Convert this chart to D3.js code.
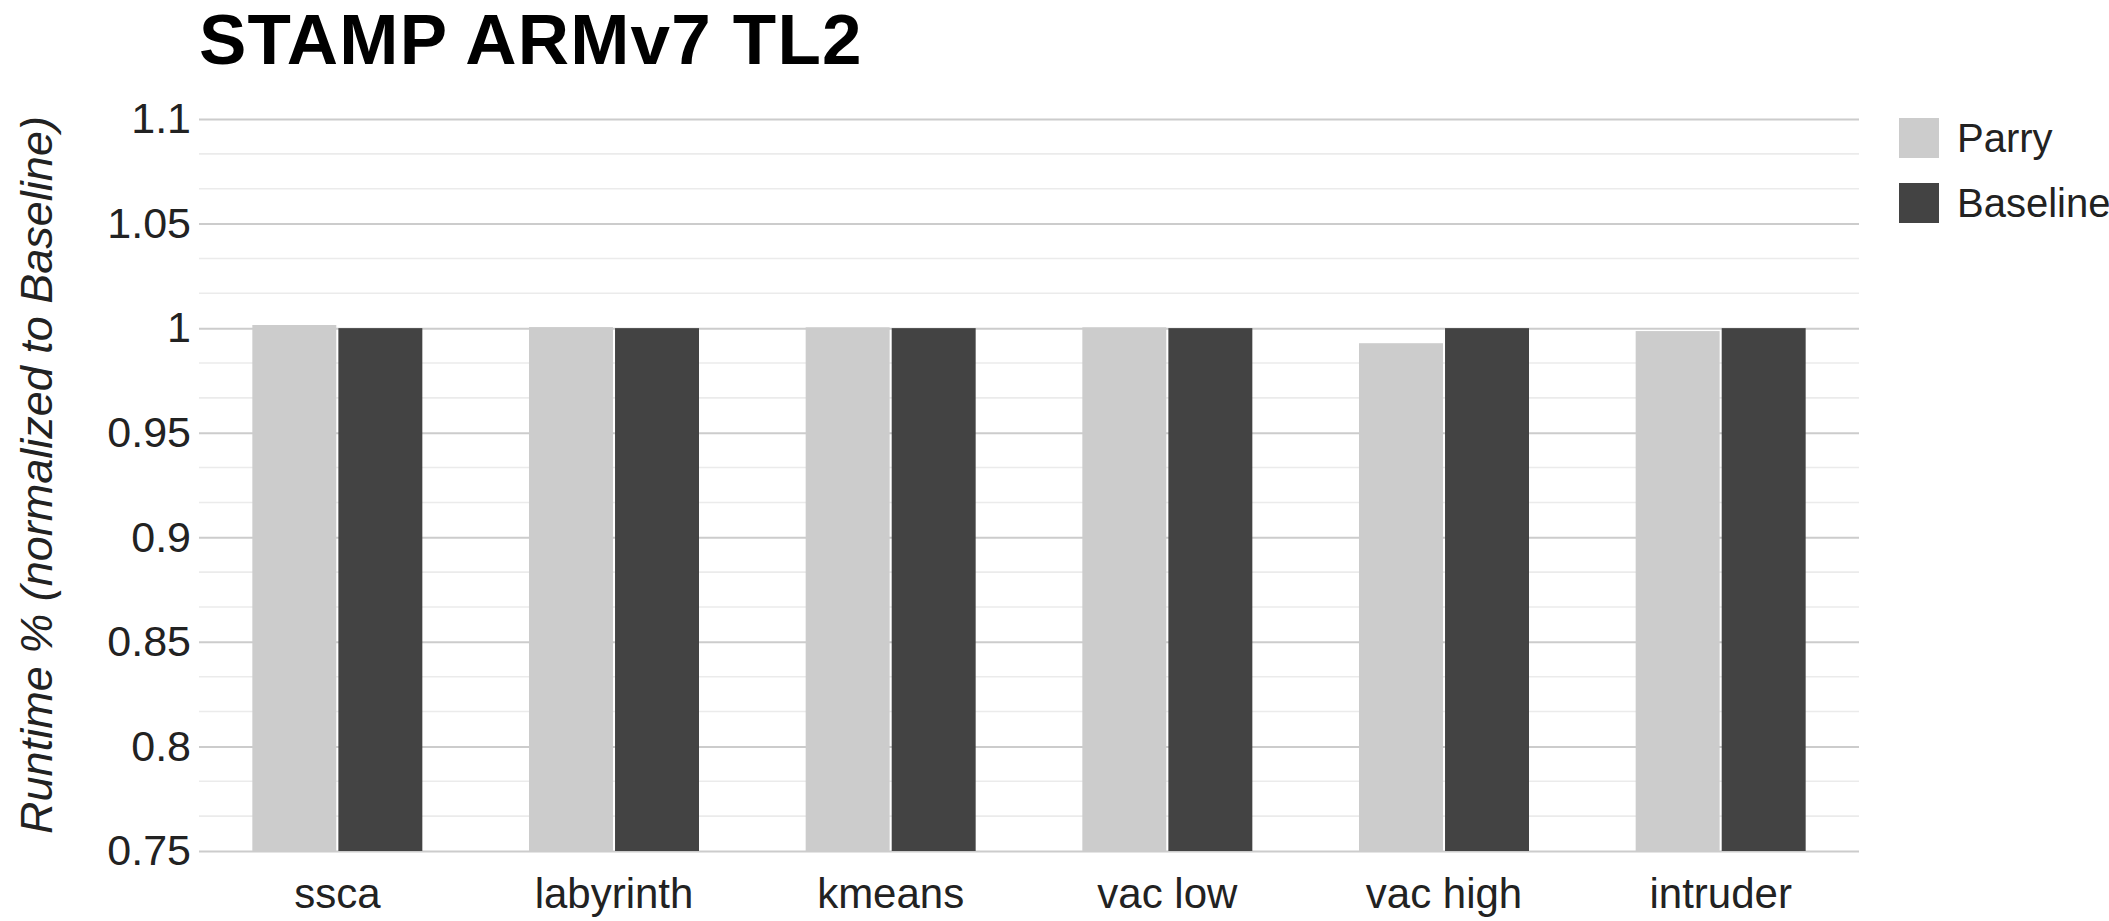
<!DOCTYPE html>
<html>
<head>
<meta charset="utf-8">
<script src="https://cdn.jsdelivr.net/npm/d3@7"></script>
<style>
  html, body { margin: 0; padding: 0; background: #fff; }
  svg { display: block; font-family: Arial, "Liberation Sans", Helvetica, sans-serif; }
</style>
</head>
<body>
<svg id="chart" width="2109" height="921"></svg>
<script>
const title = "STAMP ARMv7 TL2";
const yAxisTitle = "Runtime % (normalized to Baseline)";
const categories = ["ssca", "labyrinth", "kmeans", "vac low", "vac high", "intruder"];
const seriesNames = ["Parry", "Baseline"];
const parryValues = [1.0015, 1.0005, 1.0004, 1.0004, 0.9928, 0.9986];
const baselineValues = [1, 1, 1, 1, 1, 1];
const seriesColors = ["#cccccc", "#434343"];
const yTicks = [0.75, 0.8, 0.85, 0.9, 0.95, 1, 1.05, 1.1];
const yTickLabels = ["0.75", "0.8", "0.85", "0.9", "0.95", "1", "1.05", "1.1"];

(function () {
const svg = d3.select("#chart");
const pLeft = 199, pRight = 1859, pTop = 119, pBottom = 851;

const y = d3.scaleLinear().domain([0.75, 1.1]).range([pBottom, pTop]);
const x0 = d3.scaleBand().domain(categories).range([pLeft, pRight]).padding(0);
const groupW = 170;
const bw = x0.bandwidth();
const x1 = d3.scaleBand().domain(seriesNames)
  .range([(bw - groupW) / 2, (bw + groupW) / 2]).paddingInner(0.024).paddingOuter(0);

// minor gridlines
const minorTicks = d3.range(0, 22).map(i => 0.75 + i * (0.05 / 3))
  .filter((v, i) => i % 3 !== 0);
svg.append("g").selectAll("line").data(minorTicks).join("line")
  .attr("x1", pLeft).attr("x2", pRight)
  .attr("y1", d => y(d)).attr("y2", d => y(d))
  .attr("stroke", "#ebebeb").attr("stroke-width", 1.6);

// major gridlines via axis
const yAxis = d3.axisLeft(y).tickValues(yTicks)
  .tickFormat((d, i) => yTickLabels[i]).tickSize(-(pRight - pLeft)).tickPadding(8);
const gy = svg.append("g").attr("transform", `translate(${pLeft},0)`).call(yAxis);
gy.select(".domain").remove();
gy.selectAll(".tick line").attr("stroke", "#cccccc").attr("stroke-width", 2);
gy.selectAll(".tick text").attr("x", -8)
  .attr("font-size", 43).attr("fill", "#222").attr("font-family", "Arial, 'Liberation Sans', sans-serif");

// bars
const data = categories.map((c, i) => ({ cat: c, vals: [parryValues[i], baselineValues[i]] }));
const groups = svg.append("g").selectAll("g").data(data).join("g")
  .attr("transform", d => `translate(${x0(d.cat)},0)`);
groups.selectAll("rect").data(d => d.vals.map((v, j) => ({ name: seriesNames[j], v, j })))
  .join("rect")
  .attr("x", d => x1(d.name))
  .attr("width", x1.bandwidth())
  .attr("y", d => y(d.v))
  .attr("height", d => y(0.75) - y(d.v))
  .attr("fill", d => seriesColors[d.j]);

// x axis labels
const xAxis = d3.axisBottom(x0).tickSize(0).tickPadding(0);
const gx = svg.append("g").attr("transform", `translate(0,${pBottom})`).call(xAxis);
gx.select(".domain").remove();
gx.selectAll(".tick text").attr("dy", null).attr("y", 57)
  .attr("font-size", 42).attr("fill", "#222").attr("font-family", "Arial, 'Liberation Sans', sans-serif");

// title
svg.append("text").attr("x", 199).attr("y", 64)
  .attr("font-size", 71).attr("font-weight", "bold").attr("fill", "#000")
  .attr("letter-spacing", 1.2)
  .text(title);

// y axis title
svg.append("text")
  .attr("transform", `translate(52,${(pTop + pBottom) / 2 - 10}) rotate(-90)`)
  .attr("text-anchor", "middle")
  .attr("font-size", 45).attr("font-style", "italic").attr("fill", "#222")
  .text(yAxisTitle);

// legend
const legend = svg.append("g").selectAll("g").data(seriesNames).join("g")
  .attr("transform", (d, i) => `translate(1899,${118 + i * 65})`);
legend.append("rect").attr("width", 40).attr("height", 40)
  .attr("fill", (d, i) => seriesColors[i]);
legend.append("text").attr("x", 58).attr("y", 20).attr("dy", "0.35em")
  .attr("font-size", 40).attr("fill", "#222").text(d => d);
})();
</script>
</body>
</html>
